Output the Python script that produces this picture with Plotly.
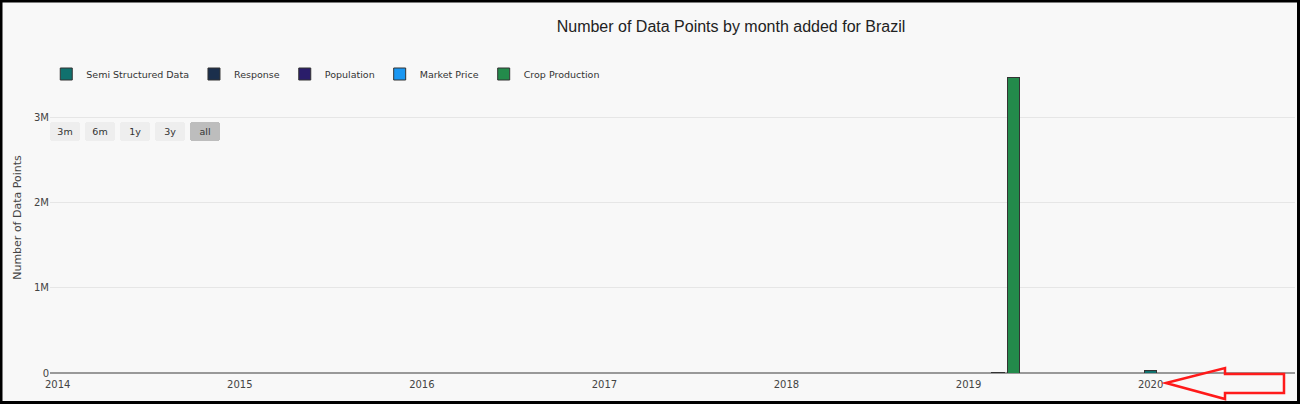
import plotly.graph_objects as go

title = "Number of Data Points by month added for Brazil"
series_names = ["Semi Structured Data", "Response", "Population", "Market Price", "Crop Production"]
colors = ["#10716e", "#1b2f4c", "#2a1d6a", "#1a97f2", "#238b4b"]

semi_x = ["2014-01-01", "2020-01-01", "2020-10-01"]
semi_y = [0, 30000, 0]
response_x = ["2019-03-01"]
response_y = [9000]
population_x = ["2019-03-01"]
population_y = [1500]
market_x = ["2019-03-01"]
market_y = [1000]
crop_x = ["2019-04-01"]
crop_y = [3470000]

xs = [semi_x, response_x, population_x, market_x, crop_x]
ys = [semi_y, response_y, population_y, market_y, crop_y]

fig = go.Figure()
for name, c, x, y in zip(series_names, colors, xs, ys):
    fig.add_trace(go.Bar(x=x, y=y, name=name,
                         marker=dict(color=c, line=dict(color="#333333", width=1))))

W, H = 1300, 404
L, R, T, B = 50, 5, 62, 31
pw, ph = W - L - R, H - T - B

def px(x):
    return (x - L) / pw

def py(y):
    return (H - B - y) / ph

arrow_pts = [(1166, 383), (1225, 368), (1225, 374), (1284, 374), (1284, 393), (1225, 393), (1225, 399)]
path = "M " + " L ".join(f"{px(a):.5f},{py(b):.5f}" for a, b in arrow_pts) + " Z"

fig.update_layout(
    width=W, height=H,
    barmode="stack",
    paper_bgcolor="#f8f8f8", plot_bgcolor="#f8f8f8",
    margin=dict(l=L, r=R, t=T, b=B, autoexpand=False),
    title=dict(text=title, x=(731) / W, xanchor="center", y=1 - 26 / H, yanchor="middle",
               font=dict(family="Liberation Sans, Arial", size=16, color="#222")),
    font=dict(family="DejaVu Sans, Verdana", size=10, color="#444"),
    legend=dict(orientation="h", traceorder="normal", x=-0.003, xanchor="left", y=py(74), yanchor="middle",
                font=dict(size=9.5, color="#333"), bgcolor="rgba(0,0,0,0)"),
    xaxis=dict(type="date", showgrid=False, tickformat="%Y", dtick="M12",
               tickfont=dict(size=10, color="#444"), ticks="", automargin=False,
               ticklabelstandoff=4,
               rangeselector=dict(
                   buttons=[dict(count=3, label="3m", step="month", stepmode="backward"),
                            dict(count=6, label="6m", step="month", stepmode="backward"),
                            dict(count=1, label="1y", step="year", stepmode="backward"),
                            dict(count=3, label="3y", step="year", stepmode="backward"),
                            dict(step="all", label="all")],
                   x=0, xanchor="left", y=py(141), yanchor="bottom",
                   bgcolor="#eeeeee", activecolor="#bdbdbd",
                   font=dict(size=9.5, color="#333"))),
    yaxis=dict(title=dict(text="Number of Data Points", font=dict(size=11, color="#444"), standoff=10),
               automargin=False, dtick=1000000,
               gridcolor="#e6e6e6", zeroline=True, zerolinecolor="#999", zerolinewidth=2,
               tickfont=dict(size=10, color="#444")),
    shapes=[
        dict(type="path", xref="paper", yref="paper", path=path,
             line=dict(color="#ff1a1a", width=2.5), fillcolor="rgba(0,0,0,0)"),
        dict(type="rect", xref="paper", yref="paper",
             x0=px(1), x1=px(W - 1.5), y0=py(H - 1.5), y1=py(1),
             line=dict(color="black", width=3), fillcolor="rgba(0,0,0,0)"),
    ],
)

fig.write_html("out.html", config={"displayModeBar": False},
               post_script="document.body.style.margin='0';")
